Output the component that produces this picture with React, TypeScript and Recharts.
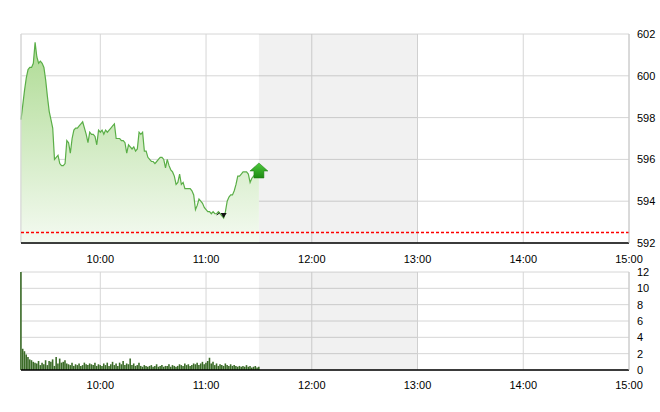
import { ComposedChart, Area, Bar, XAxis, YAxis, CartesianGrid, ReferenceArea, ReferenceLine, ReferenceDot } from 'recharts';

// session starts 9:15, one point per minute until 11:30
const startMinute = 555;
const endMinute = 900;
const lunchBreak = [690, 780];
const timeTicks = [600, 660, 720, 780, 840, 900];
const priceTicks = [592, 594, 596, 598, 600, 602];
const volumeTicks = [0, 2, 4, 6, 8, 10, 12];
const refPrice = 592.5;

const priceValues = [
  597.9, 598.6, 599.3, 599.9, 600.3, 600.4, 600.4, 600.6, 601.6, 600.9,
  600.6, 600.7, 600.6, 600.4, 599.8, 599.0, 598.3, 597.9, 597.5, 596.0,
  596.1, 596.2, 595.8, 595.7, 595.7, 595.8, 596.9, 596.8, 596.3, 597.0,
  597.4, 597.5, 597.5, 597.6, 597.7, 597.8, 597.5, 597.2, 596.8, 597.3,
  597.2, 597.2, 597.1, 596.7, 597.4, 597.3, 597.4, 597.2, 597.4, 597.3,
  597.4, 597.5, 597.6, 597.7, 597.0, 597.0, 597.0, 596.9, 596.9, 596.8,
  596.3, 596.7, 596.6, 596.5, 596.6, 596.4, 596.5, 597.3, 597.2, 597.3,
  596.4, 596.4, 596.1, 596.0, 595.9, 595.9, 595.8, 595.9, 596.0, 596.1,
  596.1, 596.0, 595.6, 596.0, 595.7, 595.5, 595.4, 595.2, 594.8, 594.9,
  595.3, 594.8, 594.9, 594.6, 594.6, 594.6, 594.6, 594.5, 594.3, 593.6,
  593.8, 594.1, 594.0, 593.9, 593.7, 593.6, 593.5, 593.5, 593.4, 593.5,
  593.4, 593.4, 593.5, 593.4, 593.3, 593.2, 593.5, 594.0, 594.2, 594.3,
  594.3, 594.5, 594.8, 595.2, 595.2, 595.3, 595.4, 595.4, 595.4, 595.3,
  594.9, 595.1, 595.2, 595.3, 595.3, 595.3,
];

const volumeValues = [
  12.0, 2.6, 2.3, 1.9, 1.6, 1.3, 1.2, 1.0, 0.9, 0.8,
  1.1, 0.6, 0.9, 0.7, 1.2, 0.6, 1.1, 1.0, 1.3, 0.5,
  1.6, 0.8, 1.4, 0.9, 1.0, 1.2, 0.8, 0.7, 0.6, 0.9,
  0.5, 0.7, 0.6, 0.8, 0.5, 0.6, 0.9, 0.7, 0.6, 0.8,
  0.7, 0.6, 0.9, 0.5, 0.7, 0.6, 0.5, 0.8, 0.6, 0.9,
  0.5, 0.7, 1.0, 0.6, 0.8, 0.5, 0.9, 0.7, 1.1, 0.6,
  0.8, 0.7, 1.4, 0.6, 0.8, 0.5, 0.6, 0.9, 0.5, 0.4,
  0.6, 0.5, 0.4, 0.5, 0.6, 0.4, 0.5, 0.7, 0.4, 0.5,
  0.6, 0.4, 0.5, 0.5, 0.7, 0.4, 0.6, 0.5, 0.4, 0.5,
  0.7, 0.6, 0.5, 0.8, 0.6, 0.7, 0.5, 0.6, 0.8, 0.7,
  0.9, 0.6, 0.8, 1.0, 0.7, 0.9, 1.1, 1.5, 0.8, 1.0,
  0.6, 0.8, 0.5, 0.7, 0.6, 0.5, 0.8, 0.6, 0.5, 0.7,
  0.5, 0.6, 0.5, 0.4, 0.5, 0.4, 0.5, 0.4, 0.6, 0.4,
  0.5, 0.3, 0.4, 0.5, 0.3, 0.4,
];

const data = priceValues.map((p, i) => ({
  t: startMinute + i,
  price: p,
  volume: volumeValues[i],
}));

const last = data[data.length - 1];
const low = data.reduce((a, b) => (b.price < a.price ? b : a));

const fmtTime = (m: number) => `${Math.floor(m / 60)}:${String(m % 60).padStart(2, '0')}`;

const font = { fontFamily: 'Arial, "Liberation Sans", sans-serif', fontSize: 11, fill: '#000' };
const gridColor = '#d6d6d6';

const UpArrow = (props: any) => {
  const { cx, cy } = props;
  const top = cy - 11;
  return (
    <g>
      <defs>
        <linearGradient id="arrowFill" x1="0" y1="0" x2="0" y2="1">
          <stop offset="0%" stopColor="#4cc83a" />
          <stop offset="100%" stopColor="#1e8a14" />
        </linearGradient>
      </defs>
      <polygon
        points={`${cx},${top} ${cx + 9},${top + 8} ${cx + 5},${top + 8} ${cx + 5},${top + 15} ${cx - 5},${top + 15} ${cx - 5},${top + 8} ${cx - 9},${top + 8}`}
        fill="url(#arrowFill)"
        stroke="#1c7a12"
        strokeWidth={0.5}
      />
    </g>
  );
};

const LowMark = (props: any) => {
  const { cx, cy } = props;
  return (
    <g>
      <polygon points={`${cx - 3},${cy - 5} ${cx + 3},${cy - 5} ${cx},${cy}`} fill="#111" />
      <line x1={cx - 7} y1={cy - 3} x2={cx - 4} y2={cy - 5} stroke="#111" strokeWidth={1} />
    </g>
  );
};

export default function App() {
  return (
    <div style={{ position: 'absolute', left: 0, top: 0, width: 660, height: 412, background: '#fff' }}>
      <div style={{ position: 'absolute', left: 0, top: 0 }}>
        <ComposedChart width={660} height={270} data={data} margin={{ top: 34, right: 0, left: 21, bottom: 0 }}>
          <defs>
            <linearGradient id="priceFill" x1="0" y1="0" x2="0" y2="1">
              <stop offset="0%" stopColor="#aedb93" />
              <stop offset="100%" stopColor="#f4faf1" />
            </linearGradient>
          </defs>
          <CartesianGrid stroke={gridColor} />
          <ReferenceArea x1={lunchBreak[0]} x2={lunchBreak[1]} fill="#000" fillOpacity={0.055} stroke="none" />
          <ReferenceLine x={startMinute} stroke={gridColor} />
          <XAxis
            dataKey="t"
            type="number"
            domain={[startMinute, endMinute]}
            ticks={timeTicks}
            tickFormatter={fmtTime}
            tick={font}
            tickLine={false}
            tickMargin={6}
            axisLine={{ stroke: '#000', strokeWidth: 1.5 }}
            height={27}
            interval={0}
          />
          <YAxis
            orientation="right"
            domain={[592, 602]}
            ticks={priceTicks}
            tick={{ ...font, textAnchor: 'start' }}
            tickLine={false}
            tickMargin={2}
            axisLine={{ stroke: '#c8c8c8' }}
            width={31}
            interval={0}
          />
          <Area
            type="linear"
            dataKey="price"
            stroke="#5aae47"
            strokeWidth={1.2}
            fill="url(#priceFill)"
            fillOpacity={1}
            isAnimationActive={false}
            dot={false}
            activeDot={false}
          />
          <ReferenceLine y={refPrice} stroke="#ff0000" strokeWidth={1.5} strokeDasharray="3 2" />
          <ReferenceDot x={low.t} y={low.price} shape={LowMark} />
          <ReferenceDot x={last.t} y={last.price} shape={UpArrow} />
        </ComposedChart>
      </div>
      <div style={{ position: 'absolute', left: 0, top: 250 }}>
        <ComposedChart width={660} height={162} data={data} margin={{ top: 22, right: 0, left: 21, bottom: 0 }}>
          <CartesianGrid stroke={gridColor} />
          <ReferenceArea x1={lunchBreak[0]} x2={lunchBreak[1]} fill="#000" fillOpacity={0.055} stroke="none" />
          <XAxis
            dataKey="t"
            type="number"
            domain={[startMinute, endMinute]}
            ticks={timeTicks}
            tickFormatter={fmtTime}
            tick={font}
            tickLine={false}
            tickMargin={5}
            axisLine={{ stroke: '#000', strokeWidth: 1.5 }}
            height={42}
            interval={0}
          />
          <YAxis
            orientation="right"
            domain={[0, 12]}
            ticks={volumeTicks}
            tick={{ ...font, textAnchor: 'start' }}
            tickLine={false}
            tickMargin={2}
            axisLine={{ stroke: '#c8c8c8' }}
            width={31}
            interval={0}
          />
          <Bar dataKey="volume" fill="#3a6b27" barSize={2} isAnimationActive={false} />
        </ComposedChart>
      </div>
    </div>
  );
}
